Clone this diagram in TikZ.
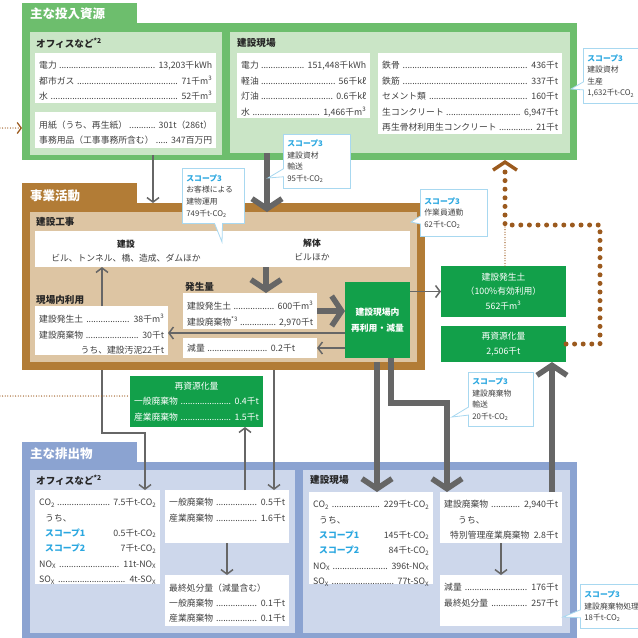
\documentclass[tikz,border=0pt]{standalone}
\usepackage{fontspec}
\setmainfont{Noto Sans CJK JP}
\usetikzlibrary{arrows.meta,shapes.callouts}

\definecolor{ingreen}{HTML}{6DBE6D}
\definecolor{inlight}{HTML}{CAE5C6}
\definecolor{actbrown}{HTML}{B27C36}
\definecolor{actlight}{HTML}{DDC5A3}
\definecolor{outblue}{HTML}{8BA3D1}
\definecolor{outlight}{HTML}{CDD7EB}
\definecolor{boxgreen}{HTML}{12A04A}
\definecolor{arrowgray}{HTML}{666666}
\definecolor{dotbrown}{HTML}{9B5A1E}
\definecolor{scopeblue}{HTML}{2AA7E0}
\definecolor{callline}{HTML}{A8D8F0}
\definecolor{txt}{HTML}{404040}

\newcommand\bodyfont{\fontsize{8.8}{15.4}\selectfont}
\newcommand\callfont{\fontsize{7.8}{11.6}\selectfont}
\newcommand\lead{\hspace{2pt}\cleaders\hbox to 2.4pt{\hss.\hss}\hfill\hspace{3pt}}
\newcommand\scp[1]{\textcolor{scopeblue}{\bfseries スコープ#1}}

\tikzset{
  panel/.style={anchor=north west,inner sep=0pt,outer sep=0pt},
  wbox/.style={panel,fill=white},
  wtext/.style={anchor=north west,inner xsep=4pt,inner ysep=8.3pt,align=left,font=\bodyfont,text=txt},
  gbox/.style={panel,fill=boxgreen},
  gtext/.style={align=center,font=\bodyfont,text=white,inner sep=0pt},
  tabtitle/.style={anchor=west,font=\fontsize{12.5}{14}\selectfont\bfseries,text=white,inner sep=0pt},
  subtitle/.style={anchor=west,font=\fontsize{9.6}{11}\selectfont\bfseries,text=black!85,inner sep=0pt},
  thinline/.style={draw=arrowgray,line width=1.5pt},
  thinarrow/.style={thinline,-{Straight Barb[length=4.5pt,width=12pt]}},
  thickarrow/.style={draw=arrowgray,line width=5.5pt,-{Straight Barb[length=10pt,width=30pt]}},
  bigdots/.style={draw=dotbrown,line width=5pt,line cap=round,dash pattern=on 0pt off 8.6pt},
  smalldots/.style={draw=dotbrown,line width=1.3pt,line cap=round,dash pattern=on 0pt off 2.6pt},
  scopecall/.style={rectangle callout,draw=callline,fill=white,line width=0.8pt,align=left,
    font=\callfont,text=txt,inner sep=4pt,anchor=north west,callout pointer width=8pt}
}

% white box: name, x, y, width, height, text
\newcommand\wbox[6]{%
  \pgfmathsetmacro\wboxw{#4-8}%
  \node[wbox,minimum width=#4pt,minimum height=#5pt] (#1) at (#2,#3) {};
  \node[wtext,text width=\wboxw pt] (#1-t) at (#1.north west) {#6};}

\begin{document}
\begin{tikzpicture}[x=1pt,y=-1pt]
\useasboundingbox (0,0) rectangle (638,638);

% inputs
\node[panel,fill=ingreen,minimum width=115pt,minimum height=24pt] (intab) at (22,3) {};
\node[panel,fill=ingreen,minimum width=555pt,minimum height=137pt] (inframe) at (22,23) {};
\node[panel,fill=inlight,minimum width=192pt,minimum height=123pt] (inoffice) at (30,32) {};
\node[panel,fill=inlight,minimum width=340pt,minimum height=121pt] (insite) at (230,32) {};
\node[tabtitle] (intitle) at (30,14) {主な投入資源};
\node[subtitle] (inofficetitle) at (36,43) {オフィスなど\textsuperscript{*2}};
\node[subtitle] (insitetitle) at (237,43) {建設現場};
\wbox{inenergy}{35}{53}{181}{50}{電力\lead 13,203千kWh\\都市ガス\lead 71千m\textsuperscript{3}\\水\lead 52千m\textsuperscript{3}}
\wbox{inpaper}{35}{112}{181}{36}{用紙（うち、再生紙）\lead 301t（286t）\\事務用品（工事事務所含む）\lead 347百万円}
\wbox{inpower}{237}{53}{133}{65}{電力\lead 151,448千kWh\\軽油\lead 56千kℓ\hspace*{18pt}\\灯油\lead 0.6千kℓ\hspace*{22pt}\\水\lead 1,466千m\textsuperscript{3}}
\wbox{inmaterial}{378}{53}{184}{81}{鉄骨\lead 436千t\\鉄筋\lead 337千t\\セメント類\lead 160千t\\生コンクリート\lead 6,947千t\\再生骨材利用生コンクリート\lead 21千t}

% activities
\node[panel,fill=actbrown,minimum width=115pt,minimum height=22pt] (acttab) at (22,183) {};
\node[panel,fill=actbrown,minimum width=403pt,minimum height=167pt] (actframe) at (22,203) {};
\node[panel,fill=actlight,minimum width=387pt,minimum height=150pt] (actpanel) at (30,212) {};
\node[tabtitle] (acttitle) at (30,196) {事業活動};
\node[subtitle] (worktitle) at (36,222) {建設工事};
\node[wbox,minimum width=375pt,minimum height=36pt] (kenbox) at (35,231) {};
\begin{scope}[every node/.style={align=center,font=\bodyfont,text=txt,inner sep=0pt}]
  \node (build) at (126,251) {\textbf{\textcolor{black!85}{建設}}\\[-1pt]ビル、トンネル、橋、造成、ダムほか};
  \node (demol) at (312,250) {\textbf{\textcolor{black!85}{解体}}\\[-1pt]ビルほか};
\end{scope}
\node[subtitle] (hasseititle) at (185,287) {発生量};
\node[subtitle] (riyoutitle) at (36,300) {現場内利用};
\wbox{hassei}{183}{293}{134}{36}{建設発生土\lead 600千m\textsuperscript{3}\\建設廃棄物\textsuperscript{*3}\lead 2,970千t}
\node[wbox,minimum width=134pt,minimum height=20pt] (genryo) at (183,338) {};
\node[wtext,text width=126pt,inner ysep=0pt,anchor=west] (genryo-t) at (genryo.west) {減量\lead 0.2千t\hspace*{18pt}};
\wbox{riyou}{35}{306}{133}{49}{建設発生土\lead 38千m\textsuperscript{3}\\建設廃棄物\lead 30千t\hspace*{6pt}\\\hfill うち、建設汚泥22千t}
\node[gbox,minimum width=65pt,minimum height=76pt] (genba) at (345,282) {};
\node[gtext,font=\bodyfont\bfseries] (genba-t) at (genba.center) {建設現場内\\再利用・減量};

% recycled
\node[gbox,minimum width=125pt,minimum height=51pt] (soil) at (441,266) {};
\node[gtext,font=\fontsize{8.8}{14.5}\selectfont] (soil-t) at (soil.center) {建設発生土\\（100\%有効利用）\\562千m\textsuperscript{3}};
\node[gbox,minimum width=125pt,minimum height=36pt] (recyc) at (441,326) {};
\node[gtext,font=\fontsize{8.8}{14.5}\selectfont] (recyc-t) at (recyc.center) {再資源化量\\2,506千t};
\node[gbox,minimum width=133pt,minimum height=51pt] (recyctwo) at (130,376) {};
\node[wtext,text=white,text width=125pt,inner ysep=0pt,anchor=center] (recyctwo-t) at (recyctwo.center) {\makebox[\linewidth]{再資源化量}\\一般廃棄物\lead 0.4千t\\産業廃棄物\lead 1.5千t};

% outputs
\node[panel,fill=outblue,minimum width=115pt,minimum height=22pt] (outtab) at (22,442) {};
\node[panel,fill=outblue,minimum width=555pt,minimum height=176pt] (outframe) at (22,462) {};
\node[panel,fill=outlight,minimum width=265pt,minimum height=163pt] (outoffice) at (30,470) {};
\node[panel,fill=outlight,minimum width=267pt,minimum height=163pt] (outsite) at (303,470) {};
\node[tabtitle] (outtitle) at (30,454) {主な排出物};
\node[subtitle] (outofficetitle) at (36,480) {オフィスなど\textsuperscript{*2}};
\node[subtitle] (outsitetitle) at (310,480) {建設現場};
\wbox{offco}{35}{490}{125}{94}{CO\textsubscript{2}\lead 7.5千t-CO\textsubscript{2}\\\hspace*{6pt}うち、\\\hspace*{6pt}\scp{1}\hfill 0.5千t-CO\textsubscript{2}\\\hspace*{6pt}\scp{2}\hfill 7千t-CO\textsubscript{2}\\NO\textsubscript{X}\lead 11t-NO\textsubscript{X}\\SO\textsubscript{X}\lead 4t-SO\textsubscript{X}}
\wbox{offwaste}{165}{490}{124}{53}{一般廃棄物\lead 0.5千t\\産業廃棄物\lead 1.6千t}
\wbox{offfinal}{165}{575}{124}{51}{最終処分量（減量含む）\\一般廃棄物\lead 0.1千t\\産業廃棄物\lead 0.1千t}
\wbox{siteco}{309}{492}{124}{92}{CO\textsubscript{2}\lead 229千t-CO\textsubscript{2}\\\hspace*{6pt}うち、\\\hspace*{6pt}\scp{1}\hfill 145千t-CO\textsubscript{2}\\\hspace*{6pt}\scp{2}\hfill 84千t-CO\textsubscript{2}\\NO\textsubscript{X}\lead 396t-NO\textsubscript{X}\\SO\textsubscript{X}\lead 77t-SO\textsubscript{X}}
\wbox{sitewaste}{440}{492}{122}{51}{建設廃棄物\lead 2,940千t\\\hspace*{14pt}うち、\\\hspace*{6pt}特別管理産業廃棄物\hfill 2.8千t}
\wbox{sitefinal}{440}{575}{122}{51}{減量\lead 176千t\\最終処分量\lead 257千t}

% connectors
\draw[thinarrow] (inoffice.south -| 153,0) -- (actframe.north -| 153,0);
\draw[thickarrow] (insite.south -| 267,0) -- (actpanel.north -| 267,0);
\draw[thickarrow] (kenbox.south -| 266,0) -- (hassei.north -| 266,0);
\draw[thickarrow] (hassei.east) -- (genba.west |- hassei.east);
\draw[thinarrow] (genba.west |- 0,333) -- (riyou.east |- 0,333);
\draw[thinarrow] (genba.west |- genryo.east) -- (genryo.east);
\draw[thinarrow] (riyou.north -| 102,0) -- (kenbox.south -| 102,0);
\draw[thinarrow] (genba.east |- soil.west) -- (soil.west);
\draw[thinarrow] (actframe.south -| 102,0) -- (102,433) -- (145,433) -- (offco.north -| 145,0);
\draw[thinarrow] (actframe.south -| 274,0) -- (offwaste.north -| 274,0);
\draw[thinarrow] (offwaste.north -| 245,0) -- (recyctwo.south -| 245,0);
\draw[thinarrow] (offwaste.south -| 227,0) -- (offfinal.north -| 227,0);
\draw[thickarrow] (actpanel.south -| 377,0) -- (siteco.north -| 377,0);
\draw[thickarrow] (genba.south -| 391,0) -- (391,403) -- (447,403) -- (sitewaste.north -| 447,0);
\draw[thickarrow] (sitewaste.north -| 552,0) -- (recyc.south -| 552,0);
\draw[thinarrow] (sitewaste.south -| 501,0) -- (sitefinal.north -| 501,0);

\draw[bigdots,-{Straight Barb[length=8pt,width=24pt,line width=3.5pt]}] (recyc.east) -- (600,344) -- (600,225) -- (505,225) -- (inframe.south -| 505,0);
\draw[smalldots] (soil.north -| 505,0) -- (505,225);
\draw[smalldots] (0,396) -- (recyctwo.west |- 0,396);
\draw[smalldots,-{Straight Barb[length=4pt,width=11pt]}] (0,128) -- (inframe.west |- 0,128);

% scope 3 notes
\node[scopecall,callout absolute pointer={(571,89)},text width=72pt,minimum height=55pt] (cprod) at (583,48) {\scp{3}\\建設資材\\生産\\1,632千t-CO\textsubscript{2}};
\node[scopecall,callout absolute pointer={(268,178)},text width=59pt,minimum height=54pt] (ctrans) at (283,134) {\scp{3}\\建設資材\\輸送\\95千t-CO\textsubscript{2}};
\node[scopecall,callout absolute pointer={(222,242)},text width=54pt,minimum height=55pt] (cuse) at (182,168) {\scp{3}\\お客様による\\建物運用\\749千t-CO\textsubscript{2}};
\node[scopecall,callout absolute pointer={(411,222)},text width=59pt,minimum height=47pt] (ccommute) at (420,189) {\scp{3}\\作業員通勤\\62千t-CO\textsubscript{2}};
\node[scopecall,callout absolute pointer={(452,417)},text width=57pt,minimum height=54pt] (cwtrans) at (468,372) {\scp{3}\\建設廃棄物\\輸送\\20千t-CO\textsubscript{2}};
\node[scopecall,callout absolute pointer={(563,617)},text width=72pt,minimum height=44pt] (cwproc) at (580,584) {\scp{3}\\建設廃棄物処理\\18千t-CO\textsubscript{2}};
\end{tikzpicture}
\end{document}
